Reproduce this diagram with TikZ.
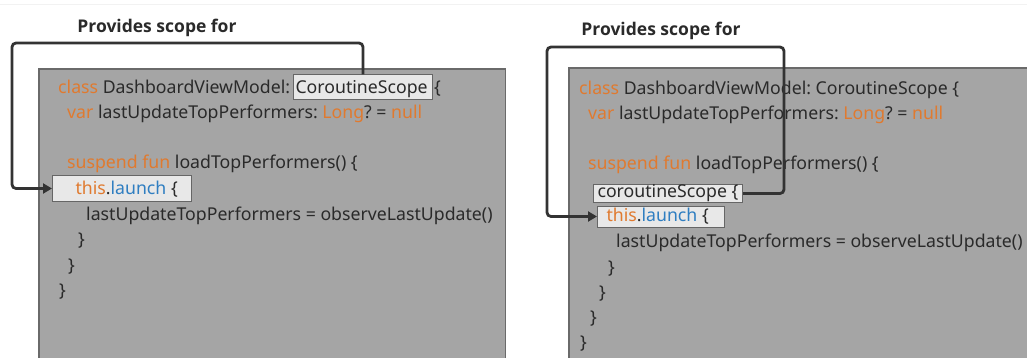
\documentclass[tikz,border=0pt]{standalone}
\usepackage{fontspec}
\setmainfont{Noto Sans}
\newfontfamily\titlefont{Open Sans}
\frenchspacing
\usetikzlibrary{arrows.meta}
\definecolor{kwc}{HTML}{E07A2F}
\definecolor{blc}{HTML}{2F7EC1}
\definecolor{txc}{HTML}{2A2A2A}
\definecolor{panelfill}{HTML}{A5A5A5}
\definecolor{panelline}{HTML}{6A6A6A}
\definecolor{boxfill}{HTML}{E8E8E8}
\definecolor{boxline}{HTML}{666666}
\definecolor{arrc}{HTML}{333333}
\newcommand{\kw}[1]{\textcolor{kwc}{#1}}
\newcommand{\bl}[1]{\textcolor{blc}{#1}}
\begin{document}
\begin{tikzpicture}[x=1pt,y=-1pt,
  code/.style={inner sep=0pt, anchor=base west, text=txc, font=\fontsize{17.7}{20}\selectfont},
  title/.style={inner sep=0pt, text=txc, font=\titlefont\fontsize{17.5}{20}\bfseries\selectfont},
  panel/.style={draw=panelline, fill=panelfill, line width=1.5pt},
  codebox/.style={draw=boxline, fill=boxfill, line width=1pt, inner xsep=0pt, inner ysep=0pt, anchor=base west, text=txc, font=\fontsize{17.7}{20}\selectfont},
  scopearrow/.style={draw=arrc, line width=2.8pt, rounded corners=4pt, -{Triangle[length=9pt,width=10pt]}}
]
\useasboundingbox (0,0) rectangle (1027,358);
\draw[color=black!5, line width=1pt] (0,5) -- (1027,5);

% ---------- left panel ----------
\fill[panel] (39,69) rectangle (505.5,362);
\node[title] (t1) at (157,28) {Provides scope for};
\node[code] (l1) at (58,94) {\kw{class} DashboardViewModel:};
\node[codebox, text height=19pt, text depth=6pt] (cs) at (293,94) {\makebox[139pt][l]{\hspace{2pt}CoroutineScope}};
\node[code] (l1b) at (cs.base east) {\hspace{1pt}\{};
\node[code] (l2) at (67,119) {\kw{var} lastUpdateTopPerformers: \kw{Long}? = \kw{null}};
\node[code] (l4) at (67,169) {\kw{suspend} \kw{fun} loadTopPerformers() \{};
\node[codebox, text height=18pt, text depth=7pt] (la) at (52,194) {\makebox[139pt][l]{\hspace{23pt}\kw{this}.\bl{launch} \{}};
\node[code] (l6) at (86,220) {lastUpdateTopPerformers = observeLastUpdate()};
\node[code] (l7) at (78,245) {\}};
\node[code] (l8) at (68,271) {\}};
\node[code] (l9) at (59,296) {\}};
\draw[scopearrow] (cs.north) |- (12,43) |- (la.west);

% ---------- right panel ----------
\fill[panel] (569,68) rectangle (1032,362);
\node[title] (t2) at (661,31) {Provides scope for};
\node[code] (r1) at (579,95) {\kw{class} DashboardViewModel: CoroutineScope \{};
\node[code] (r2) at (588,120) {\kw{var} lastUpdateTopPerformers: \kw{Long}? = \kw{null}};
\node[code] (r4) at (588,170) {\kw{suspend} \kw{fun} loadTopPerformers() \{};
\node[codebox, text height=12pt, text depth=5pt] (cs2) at (593,197) {\makebox[149pt][l]{\hspace{4pt}coroutineScope \{}};
\node[codebox, text height=15pt, text depth=6pt] (la2) at (597,221) {\makebox[127pt][l]{\hspace{9pt}\kw{this}.\bl{launch} \{}};
\node[code] (r7) at (616,247) {lastUpdateTopPerformers = observeLastUpdate()};
\node[code] (r8) at (608,273) {\}};
\node[code] (r9) at (599,298) {\}};
\node[code] (r10) at (590,323) {\}};
\node[code] (r11) at (580,348) {\}};
\draw[scopearrow] (cs2.east) -- ++(41,0) |- (547,47) |- (la2.west);
\end{tikzpicture}
\end{document}
